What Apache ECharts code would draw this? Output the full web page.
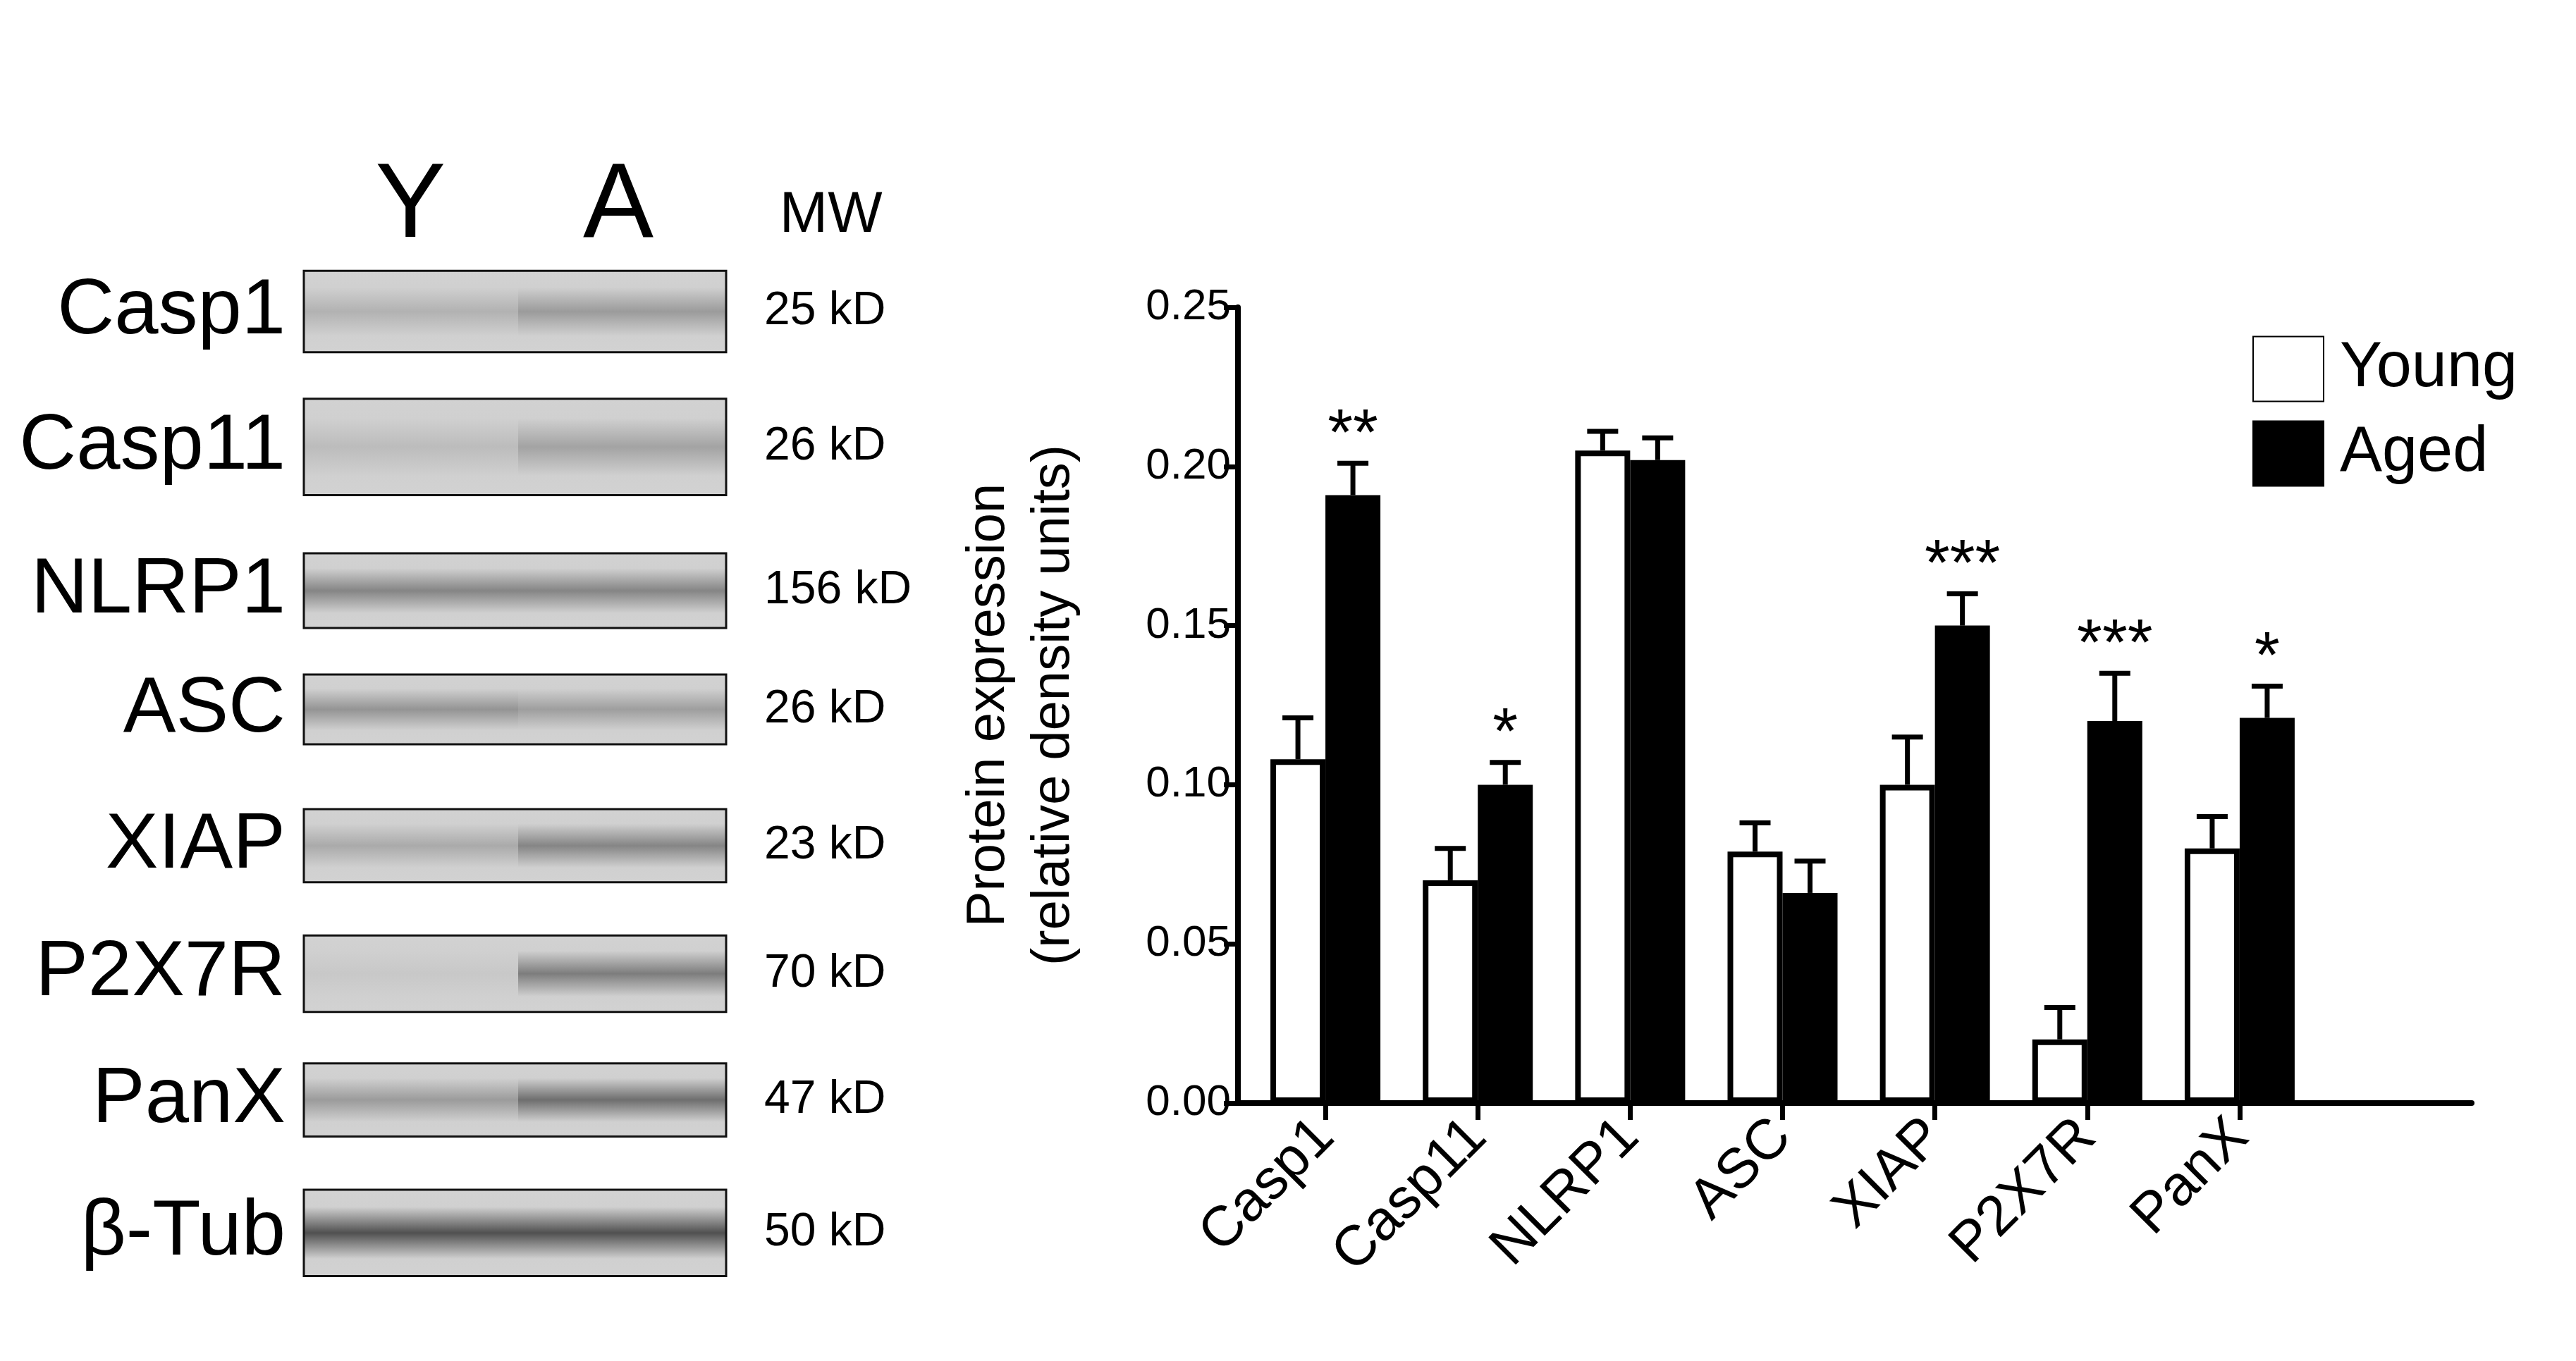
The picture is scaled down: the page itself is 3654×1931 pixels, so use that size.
<!DOCTYPE html><html><head><meta charset="utf-8"><script src="https://cdn.jsdelivr.net/npm/echarts@6/dist/echarts.min.js"></script>
<style>html,body{margin:0;padding:0;background:#fff}#c{width:3654px;height:1931px}</style></head><body><div id="c"></div><script>
const categories=['Casp1','Casp11','NLRP1','ASC','XIAP','P2X7R','PanX'];
const young=[0.108,0.070,0.205,0.079,0.100,0.020,0.080];
const youngErr=[0.121,0.080,0.211,0.088,0.115,0.030,0.090];
const aged=[0.191,0.100,0.202,0.066,0.150,0.120,0.121];
const agedErr=[0.201,0.107,0.209,0.076,0.160,0.135,0.131];
const stars=['**','*','','','***','***','*'];
const yTicks=['0.00','0.05','0.10','0.15','0.20','0.25'];
const blotNames=['Casp1','Casp11','NLRP1','ASC','XIAP','P2X7R','PanX','β-Tub'];
const blotMW=['25 kD','26 kD','156 kD','26 kD','23 kD','70 kD','47 kD','50 kD'];
const blotRows=[[163,212,0.15,0.3],[240,298,0.08,0.25],[333,378,0.45,0.45],[406,448,0.35,0.28],[487,531,0.2,0.45],[563,609,0.0,0.5],[640,684,0.3,0.6],[716,768,0.8,0.8]];
const K=3654/1550;
const chart=echarts.init(document.getElementById('c'));
const font='Liberation Sans';
const g=[];
blotRows.forEach((r,i)=>{
  const y0=r[0]*K,y1=r[1]*K,x0=431,x1=1030,xm=735;
  const band=(x,w,s)=>{const c=Math.round(200-150*s);return {type:'rect',shape:{x:x,y:y0,width:w,height:y1-y0},style:{fill:new echarts.graphic.LinearGradient(0,0,0,1,[{offset:0,color:'#d2d2d2'},{offset:0.2,color:'#d0d0d0'},{offset:0.5,color:`rgb(${c},${c},${c})`},{offset:0.8,color:'#d0d0d0'},{offset:1,color:'#d2d2d2'}])}};};
  g.push(band(x0,xm-x0,r[2]),band(xm,x1-xm,r[3]));
  g.push({type:'rect',shape:{x:x0,y:y0,width:x1-x0,height:y1-y0},style:{fill:'none',stroke:'#111',lineWidth:3}});
  g.push({type:'text',x:405,y:(y0+y1)/2,style:{text:blotNames[i],font:`112px "${font}"`,fill:'#000',align:'right',verticalAlign:'middle'}});
  g.push({type:'text',x:1084,y:(y0+y1)/2,style:{text:blotMW[i],font:`66px "${font}"`,fill:'#000',align:'left',verticalAlign:'middle'}});
});
g.push({type:'text',x:247*K,y:125*K,style:{text:'Y',font:`150px "${font}"`,fill:'#000',align:'center',verticalAlign:'middle'}});
g.push({type:'text',x:372*K,y:125*K,style:{text:'A',font:`150px "${font}"`,fill:'#000',align:'center',verticalAlign:'middle'}});
g.push({type:'text',x:500*K,y:130*K,style:{text:'MW',font:`82px "${font}"`,fill:'#000',align:'center',verticalAlign:'middle'}});
function errSeries(vals,errs,idx){
  return {type:'custom',xAxisIndex:1,yAxisIndex:1,z:5,data:vals.map((v,i)=>[i,v,errs[i],idx==1?stars[i]:'']),
    renderItem:(p,api)=>{
      const i=api.value(0);const bw=78;
      const base=api.coord([i,0]);const cx=base[0]+(idx==0?-bw/2:bw/2);
      const yv=api.coord([i,api.value(1)])[1],e=api.coord([i,api.value(2)])[1];
      const ch=[{type:'line',shape:{x1:cx,y1:yv,x2:cx,y2:e},style:{stroke:'#000',lineWidth:7}},
        {type:'line',shape:{x1:cx-22,y1:e,x2:cx+22,y2:e},style:{stroke:'#000',lineWidth:7}}];
      const s=api.value(3);
      if(s&&s!=='')ch.push({type:'text',x:cx,y:e+8,style:{text:String(s),font:`92px "${font}"`,fill:'#000',align:'center',verticalAlign:'bottom'}});
      return {type:'group',children:ch};
    }};
}
const gTop=436,gBottom=1931-1565;
chart.setOption({
  animation:false,
  graphic:g,
  legend:{left:3190,top:200*K,orient:'vertical',icon:'rect',itemWidth:100,itemHeight:92,itemGap:26,textStyle:{fontSize:90,fontFamily:font,color:'#000',padding:[0,0,0,18]},data:['Young','Aged']},
  grid:[{left:1756,width:1750,top:gTop,bottom:gBottom},{left:1772,width:1513,top:gTop,bottom:gBottom}],
  xAxis:[{type:'value',gridIndex:0,min:0,max:1,axisLine:{show:true,onZero:false,lineStyle:{color:'#000',width:8}},axisTick:{show:false},axisLabel:{show:false},splitLine:{show:false}},
    {type:'category',gridIndex:1,data:categories,axisLine:{show:false},axisTick:{show:true,alignWithLabel:true,length:24,lineStyle:{width:7,color:'#000'}},axisLabel:{rotate:45,fontSize:80,fontFamily:font,color:'#000',margin:36}}],
  yAxis:[{type:'value',gridIndex:0,min:0,max:0.25,interval:0.05,name:'Protein expression\n(relative density units)',nameLocation:'middle',nameGap:215,nameTextStyle:{fontSize:76,fontFamily:font,color:'#000',lineHeight:92},
    axisLine:{show:true,lineStyle:{color:'#000',width:8}},axisTick:{show:true,length:20,lineStyle:{width:7,color:'#000'}},splitLine:{show:false},
    axisLabel:{fontSize:62,fontFamily:font,color:'#000',margin:10,formatter:v=>yTicks[Math.round(v/0.05)]}},
    {type:'value',gridIndex:1,min:0,max:0.25,interval:0.05,show:false,splitLine:{show:false}}],
  series:[
    {name:'Young',type:'bar',xAxisIndex:1,yAxisIndex:1,data:young,barWidth:78,barGap:'0%',itemStyle:{color:'#fff',borderColor:'#000',borderWidth:8}},
    {name:'Aged',type:'bar',xAxisIndex:1,yAxisIndex:1,data:aged,barWidth:78,itemStyle:{color:'#000',borderColor:'#000',borderWidth:8}},
    errSeries(young,youngErr,0),errSeries(aged,agedErr,1)
  ]
});
</script></body></html>
